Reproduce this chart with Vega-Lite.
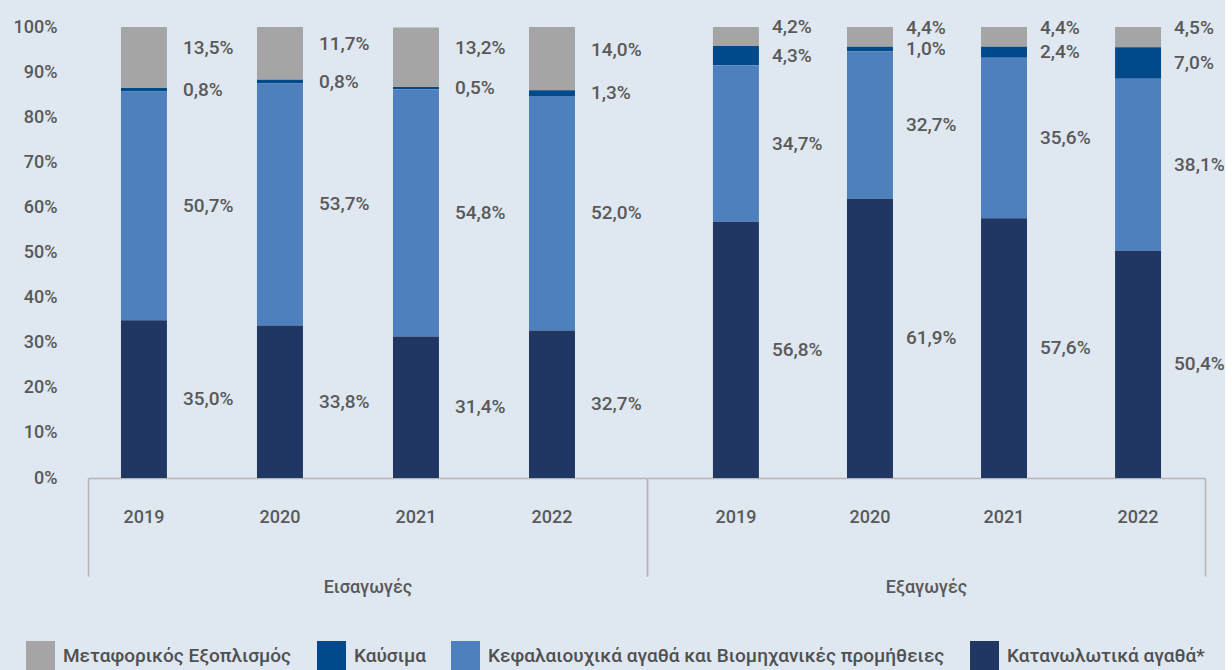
{
  "$schema": "https://vega.github.io/schema/vega-lite/v6.json",
  "background": "#DFE7F0",
  "padding": {"left": 13, "top": 18, "right": 0, "bottom": 0},
  "spacing": 0,
  "bounds": "flush",
  "config": {
    "locale": {"number": {"decimal": ",", "thousands": ".", "grouping": [3], "currency": ["", " €"]}},
    "font": "Roboto",
    "view": {"stroke": null},
    "axis": {"labelColor": "#595959", "titleColor": "#595959", "labelFont": "Roboto", "titleFont": "Roboto", "labelFontWeight": 500, "titleFontWeight": 500},
    "legend": {"orient": "none", "legendX": -62, "legendY": 614, "direction": "horizontal", "title": null, "symbolType": "square", "symbolSize": 841, "symbolStrokeWidth": 0, "labelFontSize": 19, "labelFontWeight": 500, "labelColor": "#505050", "labelFont": "Roboto", "labelLimit": 700, "columnPadding": 25, "labelOffset": 8, "padding": 0}
  },
  "data": {"values": [
    {"g": "Εισαγωγές", "yr": "2019", "c": "Μεταφορικός Εξοπλισμός", "o": 4, "v": 0.135},
    {"g": "Εισαγωγές", "yr": "2019", "c": "Καύσιμα", "o": 3, "v": 0.008},
    {"g": "Εισαγωγές", "yr": "2019", "c": "Κεφαλαιουχικά αγαθά και Βιομηχανικές προμήθειες", "o": 2, "v": 0.507},
    {"g": "Εισαγωγές", "yr": "2019", "c": "Κατανωλωτικά αγαθά*", "o": 1, "v": 0.350},
    {"g": "Εισαγωγές", "yr": "2020", "c": "Μεταφορικός Εξοπλισμός", "o": 4, "v": 0.117},
    {"g": "Εισαγωγές", "yr": "2020", "c": "Καύσιμα", "o": 3, "v": 0.008},
    {"g": "Εισαγωγές", "yr": "2020", "c": "Κεφαλαιουχικά αγαθά και Βιομηχανικές προμήθειες", "o": 2, "v": 0.537},
    {"g": "Εισαγωγές", "yr": "2020", "c": "Κατανωλωτικά αγαθά*", "o": 1, "v": 0.338},
    {"g": "Εισαγωγές", "yr": "2021", "c": "Μεταφορικός Εξοπλισμός", "o": 4, "v": 0.132},
    {"g": "Εισαγωγές", "yr": "2021", "c": "Καύσιμα", "o": 3, "v": 0.005},
    {"g": "Εισαγωγές", "yr": "2021", "c": "Κεφαλαιουχικά αγαθά και Βιομηχανικές προμήθειες", "o": 2, "v": 0.548},
    {"g": "Εισαγωγές", "yr": "2021", "c": "Κατανωλωτικά αγαθά*", "o": 1, "v": 0.314},
    {"g": "Εισαγωγές", "yr": "2022", "c": "Μεταφορικός Εξοπλισμός", "o": 4, "v": 0.140},
    {"g": "Εισαγωγές", "yr": "2022", "c": "Καύσιμα", "o": 3, "v": 0.013},
    {"g": "Εισαγωγές", "yr": "2022", "c": "Κεφαλαιουχικά αγαθά και Βιομηχανικές προμήθειες", "o": 2, "v": 0.520},
    {"g": "Εισαγωγές", "yr": "2022", "c": "Κατανωλωτικά αγαθά*", "o": 1, "v": 0.327},
    {"g": "Εξαγωγές", "yr": "2019", "c": "Μεταφορικός Εξοπλισμός", "o": 4, "v": 0.042},
    {"g": "Εξαγωγές", "yr": "2019", "c": "Καύσιμα", "o": 3, "v": 0.043},
    {"g": "Εξαγωγές", "yr": "2019", "c": "Κεφαλαιουχικά αγαθά και Βιομηχανικές προμήθειες", "o": 2, "v": 0.347},
    {"g": "Εξαγωγές", "yr": "2019", "c": "Κατανωλωτικά αγαθά*", "o": 1, "v": 0.568},
    {"g": "Εξαγωγές", "yr": "2020", "c": "Μεταφορικός Εξοπλισμός", "o": 4, "v": 0.044},
    {"g": "Εξαγωγές", "yr": "2020", "c": "Καύσιμα", "o": 3, "v": 0.010},
    {"g": "Εξαγωγές", "yr": "2020", "c": "Κεφαλαιουχικά αγαθά και Βιομηχανικές προμήθειες", "o": 2, "v": 0.327},
    {"g": "Εξαγωγές", "yr": "2020", "c": "Κατανωλωτικά αγαθά*", "o": 1, "v": 0.619},
    {"g": "Εξαγωγές", "yr": "2021", "c": "Μεταφορικός Εξοπλισμός", "o": 4, "v": 0.044},
    {"g": "Εξαγωγές", "yr": "2021", "c": "Καύσιμα", "o": 3, "v": 0.024},
    {"g": "Εξαγωγές", "yr": "2021", "c": "Κεφαλαιουχικά αγαθά και Βιομηχανικές προμήθειες", "o": 2, "v": 0.356},
    {"g": "Εξαγωγές", "yr": "2021", "c": "Κατανωλωτικά αγαθά*", "o": 1, "v": 0.576},
    {"g": "Εξαγωγές", "yr": "2022", "c": "Μεταφορικός Εξοπλισμός", "o": 4, "v": 0.045},
    {"g": "Εξαγωγές", "yr": "2022", "c": "Καύσιμα", "o": 3, "v": 0.070},
    {"g": "Εξαγωγές", "yr": "2022", "c": "Κεφαλαιουχικά αγαθά και Βιομηχανικές προμήθειες", "o": 2, "v": 0.381},
    {"g": "Εξαγωγές", "yr": "2022", "c": "Κατανωλωτικά αγαθά*", "o": 1, "v": 0.504}
  ]},
  "hconcat": [
    {
      "width": 559,
      "height": 451,
      "transform": [{"filter": "datum.g === 'Εισαγωγές'"}],
      "layer": [
        {
          "layer": [
            {
              "mark": {"type": "bar"},
              "encoding": {
                "x": {"field": "yr", "type": "nominal", "scale": {"paddingInner": 0.662, "paddingOuter": 0.386, "align": 0.314}, "axis": {"orient": "bottom", "title": null, "labelAngle": 0, "ticks": false, "domainColor": "#B4B4B4", "domainWidth": 1.5, "labelPadding": 30, "labelFontSize": 18}},
                "y": {"field": "v", "type": "quantitative", "stack": "zero", "scale": {"domain": [0, 1]}, "axis": {"format": ".0%", "grid": false, "domain": false, "ticks": false, "labelPadding": 31, "labelFontSize": 18, "title": null, "values": [0, 0.1, 0.2, 0.3, 0.4, 0.5, 0.6, 0.7, 0.8, 0.9, 1]}},
                "color": {"field": "c", "type": "nominal", "scale": {"domain": ["Μεταφορικός Εξοπλισμός", "Καύσιμα", "Κεφαλαιουχικά αγαθά και Βιομηχανικές προμήθειες", "Κατανωλωτικά αγαθά*"], "range": ["#A5A5A5", "#004A8B", "#4E80BE", "#213763"]}},
                "order": {"field": "o", "type": "quantitative"}
              }
            },
            {
              "mark": {"type": "text", "align": "left", "baseline": "middle", "dx": 39, "fontSize": 19, "fontWeight": 500, "color": "#595959"},
              "encoding": {
                "x": {"field": "yr", "type": "nominal"},
                "y": {"field": "v", "type": "quantitative", "stack": "zero", "bandPosition": 0.5},
                "detail": {"field": "c"},
                "order": {"field": "o", "type": "quantitative"},
                "text": {"condition": {"test": "datum.o < 4", "field": "v", "type": "quantitative", "format": ".1%"}, "value": ""}
              }
            },
            {
              "mark": {"type": "text", "align": "left", "baseline": "alphabetic", "dx": 39, "dy": -3, "fontSize": 19, "fontWeight": 500, "color": "#595959"},
              "encoding": {
                "x": {"field": "yr", "type": "nominal"},
                "y": {"field": "v", "type": "quantitative", "stack": "zero", "bandPosition": 0.5},
                "detail": {"field": "c"},
                "order": {"field": "o", "type": "quantitative"},
                "text": {"condition": {"test": "datum.o === 4", "field": "v", "type": "quantitative", "format": ".1%"}, "value": ""}
              }
            }
          ]
        },
        {
          "mark": {"type": "rule", "opacity": 0},
          "encoding": {
            "x": {"datum": 0, "type": "quantitative", "scale": {"domain": [0, 1]}, "axis": {"orient": "bottom", "values": [0, 1], "labels": false, "domain": false, "grid": false, "tickSize": 98, "tickColor": "#B4B4B4", "tickWidth": 1.5, "title": "Εισαγωγές", "titlePadding": 2, "titleFontSize": 18}}
          }
        }
      ],
      "resolve": {"scale": {"x": "independent"}, "axis": {"x": "independent"}}
    },
    {
      "width": 558,
      "height": 451,
      "transform": [{"filter": "datum.g === 'Εξαγωγές'"}],
      "layer": [
        {
          "layer": [
            {
              "mark": {"type": "bar"},
              "encoding": {
                "x": {"field": "yr", "type": "nominal", "scale": {"paddingInner": 0.657, "paddingOuter": 0.41, "align": 0.6}, "axis": {"orient": "bottom", "title": null, "labelAngle": 0, "ticks": false, "domainColor": "#B4B4B4", "domainWidth": 1.5, "labelPadding": 30, "labelFontSize": 18}},
                "y": {"field": "v", "type": "quantitative", "stack": "zero", "scale": {"domain": [0, 1]}, "axis": null},
                "color": {"field": "c", "type": "nominal", "scale": {"domain": ["Μεταφορικός Εξοπλισμός", "Καύσιμα", "Κεφαλαιουχικά αγαθά και Βιομηχανικές προμήθειες", "Κατανωλωτικά αγαθά*"], "range": ["#A5A5A5", "#004A8B", "#4E80BE", "#213763"]}},
                "order": {"field": "o", "type": "quantitative"}
              }
            },
            {
              "mark": {"type": "text", "align": "left", "baseline": "middle", "dx": 36, "fontSize": 19, "fontWeight": 500, "color": "#595959"},
              "encoding": {
                "x": {"field": "yr", "type": "nominal"},
                "y": {"field": "v", "type": "quantitative", "stack": "zero", "bandPosition": 0.5},
                "detail": {"field": "c"},
                "order": {"field": "o", "type": "quantitative"},
                "text": {"condition": {"test": "datum.o < 4", "field": "v", "type": "quantitative", "format": ".1%"}, "value": ""}
              }
            },
            {
              "mark": {"type": "text", "align": "left", "baseline": "alphabetic", "dx": 36, "dy": -3, "fontSize": 19, "fontWeight": 500, "color": "#595959"},
              "encoding": {
                "x": {"field": "yr", "type": "nominal"},
                "y": {"field": "v", "type": "quantitative", "stack": "zero", "bandPosition": 0.5},
                "detail": {"field": "c"},
                "order": {"field": "o", "type": "quantitative"},
                "text": {"condition": {"test": "datum.o === 4", "field": "v", "type": "quantitative", "format": ".1%"}, "value": ""}
              }
            }
          ]
        },
        {
          "mark": {"type": "rule", "opacity": 0},
          "encoding": {
            "x": {"datum": 0, "type": "quantitative", "scale": {"domain": [0, 1]}, "axis": {"orient": "bottom", "values": [0, 1], "labels": false, "domain": false, "grid": false, "tickSize": 98, "tickColor": "#B4B4B4", "tickWidth": 1.5, "title": "Εξαγωγές", "titlePadding": 2, "titleFontSize": 18}}
          }
        }
      ],
      "resolve": {"scale": {"x": "independent"}, "axis": {"x": "independent"}}
    }
  ],
  "resolve": {"scale": {"color": "shared", "x": "independent", "y": "independent"}, "legend": {"color": "shared"}}
}
